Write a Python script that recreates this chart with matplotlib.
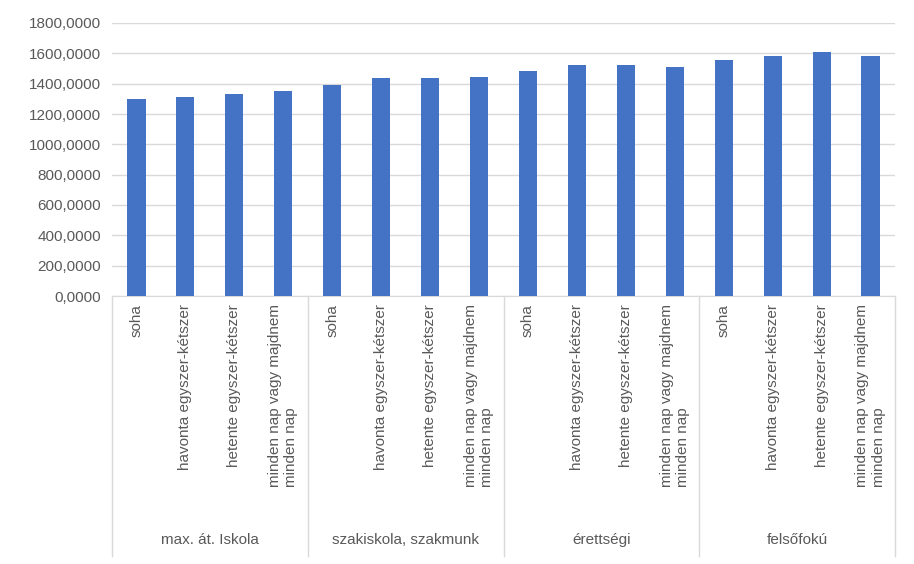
import matplotlib.pyplot as plt
import matplotlib.transforms as mtransforms
import numpy as np

groups = ["max. át. Iskola", "szakiskola, szakmunk", "érettségi", "felsőfokú"]
freq = ["soha", "havonta egyszer-kétszer", "hetente egyszer-kétszer",
        "minden nap vagy majdnem\nminden nap"]
values = [1299, 1312, 1332, 1352,
          1391, 1437, 1437, 1444,
          1483, 1523, 1523, 1510,
          1556, 1582, 1609, 1582]
yticks = [0, 200, 400, 600, 800, 1000, 1200, 1400, 1600, 1800]

W, H = 914, 564
fig = plt.figure(figsize=(W / 100, H / 100), dpi=100)
plt.rcParams['font.family'] = 'Liberation Sans'
ax = fig.add_axes([112 / W, 1 - 296 / H, (895 - 112) / W, (296 - 23) / H])

x = np.arange(len(values))
ax.bar(x, values, width=0.37, color='#4472C4', zorder=3)
ax.set_xlim(-0.5, len(values) - 0.5)
ax.set_ylim(0, 1800)
ax.set_yticks(yticks)
ax.set_yticklabels([f"{v},0000" for v in yticks], color='#595959', fontsize=11)
ax.tick_params(axis='y', length=0, pad=8)
ax.grid(axis='y', color='#d9d9d9', linewidth=1, zorder=0)
for s in ['top', 'right', 'left']:
    ax.spines[s].set_visible(False)
ax.spines['bottom'].set_color('#d9d9d9')
ax.set_xticks([])

trans = mtransforms.blended_transform_factory(ax.transData, fig.transFigure)
for i in range(len(values)):
    ax.text(i, 1 - 304 / H, freq[i % 4], rotation=90, ha='center', va='top',
            fontsize=11, color='#595959', transform=trans, multialignment='left')
for g, name in enumerate(groups):
    ax.text(g * 4 + 1.5, 1 - 540 / H, name, ha='center', va='center',
            fontsize=11, color='#595959', transform=trans)
for b in range(5):
    ax.plot([b * 4 - 0.5] * 2, [1 - 296 / H, 1 - 556 / H], color='#d9d9d9',
            linewidth=1, transform=trans, clip_on=False)

fig.savefig('out.png', dpi=100)
